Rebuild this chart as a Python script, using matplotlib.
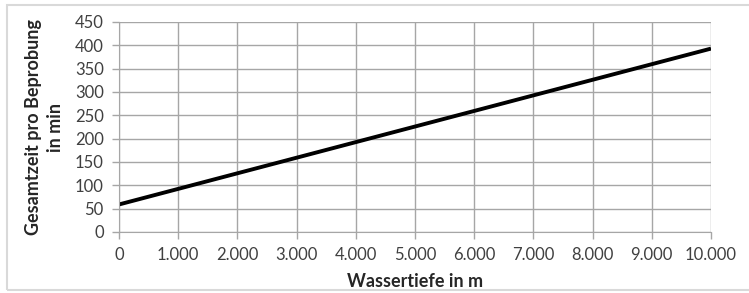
import matplotlib.pyplot as plt
from matplotlib.patches import Rectangle
from matplotlib.ticker import FuncFormatter

depth = [0, 10000]
time_min = [59, 393]
y_ticks = list(range(0, 451, 50))
x_ticks = list(range(0, 10001, 1000))

plt.rcParams["font.family"] = ["Lato", "DejaVu Sans"]

fig = plt.figure(figsize=(7.49, 2.93), dpi=100)
fig.patches.append(Rectangle((7 / 749, 3 / 293), 745 / 749, 285 / 293, transform=fig.transFigure,
                             fill=False, edgecolor="#d9d9d9", linewidth=1.5))
ax = fig.add_axes([119 / 749, 1 - 232 / 293, 592 / 749, 210 / 293])

ax.plot(depth, time_min, color="black", linewidth=2.8, solid_capstyle="butt")
ax.set_xlim(0, 10000)
ax.set_ylim(0, 450)
ax.set_xticks(x_ticks)
ax.set_yticks(y_ticks)
ax.xaxis.set_major_formatter(FuncFormatter(lambda v, p: f"{int(v):,}".replace(",", ".")))
ax.grid(True, color="#a6a6a6", linewidth=1.0)
ax.set_axisbelow(True)
for s in ["top", "right"]:
    ax.spines[s].set_visible(False)
for s in ["left", "bottom"]:
    ax.spines[s].set_color("#a6a6a6")
ax.tick_params(axis="both", colors="#a6a6a6", labelcolor="#404040", labelsize=12, length=5, width=1.0)
ax.tick_params(axis="x", pad=6)
ax.tick_params(axis="y", pad=6)
ax.set_xlabel("Wassertiefe in m", fontsize=13, fontweight="bold", color="#262626", labelpad=7)
ax.set_ylabel("Gesamtzeit pro Beprobung\nin min", fontsize=13, fontweight="bold", color="#262626",
              labelpad=8, linespacing=1.35)

fig.savefig("out.png", dpi=100)
